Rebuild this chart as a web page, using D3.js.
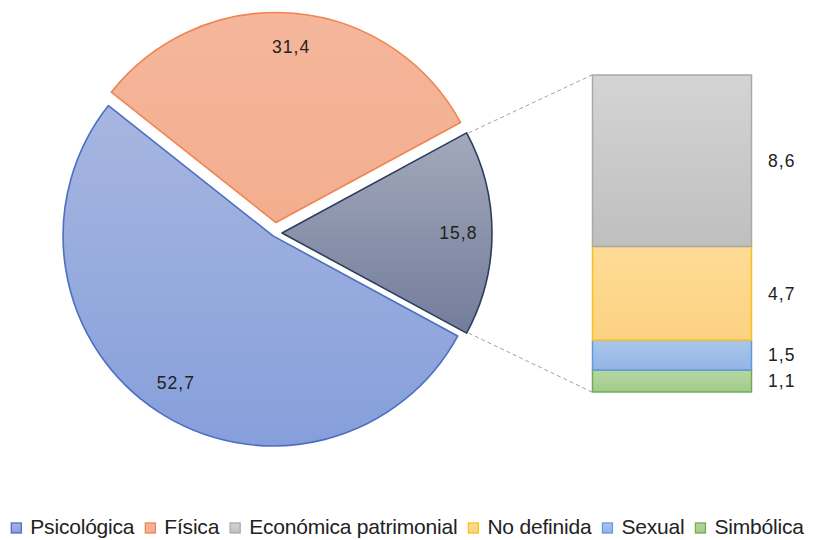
<!DOCTYPE html>
<html>
<head>
<meta charset="utf-8">
<script src="https://cdn.jsdelivr.net/npm/d3@7"></script>
<style>
  html, body { margin: 0; padding: 0; background: #ffffff; }
  svg text { font-family: "Liberation Sans", Arial, Helvetica, sans-serif; fill: #222222; }
</style>
</head>
<body>
<svg id="chart" width="815" height="540"></svg>
<script>
// Pie: the two main types plus the grouped remainder, which is broken out in the bar
const pieCategories = ["Psicológica", "Física", "Otras"];
const pieValues = [52.7, 31.4, 15.8];

// Bar: breakdown of the grouped remainder, listed top to bottom
const barCategories = ["Económica patrimonial", "No definida", "Sexual", "Simbólica"];
const barValues = [8.6, 4.7, 1.5, 1.1];

// Legend entries, in display order
const legendLabels = ["Psicológica", "Física", "Económica patrimonial", "No definida", "Sexual", "Simbólica"];

const fmt = v => d3.format(".1f")(v).replace(".", ",");

const svg = d3.select("#chart");
const defs = svg.append("defs");

// Colour styles: gradient top, gradient bottom, outline
const styles = {
  "Psicológica":           { top: "#a7b6e0", bottom: "#869fdb", stroke: "#4d6fc2" },
  "Física":                { top: "#f5b69b", bottom: "#f3ae8f", stroke: "#ee8552" },
  "Otras":                 { top: "#a3a9bb", bottom: "#737d9b", stroke: "#2c3d5e" },
  "Económica patrimonial": { top: "#d4d4d4", bottom: "#bfbfbf", stroke: "#a9a9a9" },
  "No definida":           { top: "#fedb95", bottom: "#fcd282", stroke: "#f6c21a" },
  "Sexual":                { top: "#abc6ec", bottom: "#93b4e5", stroke: "#5f9bd8" },
  "Simbólica":             { top: "#b5d7a3", bottom: "#a2cc8a", stroke: "#72ad4b" }
};
const gradId = name => "g" + Object.keys(styles).indexOf(name);
Object.keys(styles).forEach(name => {
  const g = defs.append("linearGradient").attr("id", gradId(name))
    .attr("x1", 0).attr("y1", 0).attr("x2", 0).attr("y2", 1);
  g.append("stop").attr("offset", "0%").attr("stop-color", styles[name].top);
  g.append("stop").attr("offset", "100%").attr("stop-color", styles[name].bottom);
});

// ---- Pie ----
const cx = 275, cy = 233, radius = 210;
const explode = { "Psicológica": 3.5, "Física": 10.5, "Otras": 7 };

const total = d3.sum(pieValues);
const otherAngle = 2 * Math.PI * pieValues[2] / total;
// grouped slice centred at 3 o'clock, the rest follow clockwise
const pieOrder = [2, 0, 1];
const pie = d3.pie().sort(null).value(i => pieValues[i])
  .startAngle(Math.PI / 2 - otherAngle / 2)
  .endAngle(Math.PI / 2 - otherAngle / 2 + 2 * Math.PI);
const arcs = pie(pieOrder);

const arc = d3.arc().innerRadius(0).outerRadius(radius);
const labelArc = d3.arc().innerRadius(radius * 0.84).outerRadius(radius * 0.84);

const pieG = svg.append("g").attr("transform", `translate(${cx},${cy})`);

function offsetOf(d) {
  const name = pieCategories[d.data];
  const mid = (d.startAngle + d.endAngle) / 2;
  const e = explode[name];
  return [Math.sin(mid) * e, -Math.cos(mid) * e];
}

const slices = pieG.selectAll("g.slice").data(arcs).join("g")
  .attr("class", "slice")
  .attr("transform", d => { const o = offsetOf(d); return `translate(${o[0]},${o[1]})`; });

slices.append("path")
  .attr("d", arc)
  .attr("fill", d => `url(#${gradId(pieCategories[d.data])})`)
  .attr("stroke", d => styles[pieCategories[d.data]].stroke)
  .attr("stroke-width", 1.6)
  .attr("stroke-linejoin", "round");

slices.append("text")
  .attr("transform", d => `translate(${labelArc.centroid(d)})`)
  .attr("text-anchor", "middle")
  .attr("dy", "0.36em")
  .attr("font-size", 17.5)
  .attr("letter-spacing", 1.1)
  .text(d => fmt(pieValues[d.data]));

// ---- Stacked bar ----
const barX0 = 592, barX1 = 752;
const barTotal = d3.sum(barValues);
const y = d3.scaleLinear().domain([0, barTotal]).range([392, 75]);

// stack from the bottom up (last category at the base)
let acc = 0;
const stackBottom = barValues.map((v, i) => i).reverse().map(i => {
  const seg = { i, y0: acc, y1: acc + barValues[i] };
  acc += barValues[i];
  return seg;
});

const barG = svg.append("g");
barG.selectAll("rect").data(stackBottom).join("rect")
  .attr("x", barX0 + 0.5)
  .attr("width", barX1 - barX0 - 1)
  .attr("y", d => y(d.y1))
  .attr("height", d => y(d.y0) - y(d.y1))
  .attr("fill", d => `url(#${gradId(barCategories[d.i])})`)
  .attr("stroke", d => styles[barCategories[d.i]].stroke)
  .attr("stroke-width", 1.5);

barG.selectAll("text").data(stackBottom).join("text")
  .attr("x", barX1 + 16)
  .attr("y", d => (y(d.y0) + y(d.y1)) / 2)
  .attr("dy", "0.36em")
  .attr("font-size", 17.5)
  .attr("letter-spacing", 1.1)
  .text(d => fmt(barValues[d.i]));

// ---- Connector lines from the grouped slice to the bar ----
const otherArc = arcs[0];
const oo = offsetOf(otherArc);
const pt = a => [cx + oo[0] + Math.sin(a) * radius, cy + oo[1] - Math.cos(a) * radius];
const pTop = pt(otherArc.startAngle), pBot = pt(otherArc.endAngle);
svg.append("g").selectAll("line")
  .data([[pTop, [barX0, y(barTotal)]], [pBot, [barX0, y(0)]]])
  .join("line")
  .attr("x1", d => d[0][0] + 2).attr("y1", d => d[0][1])
  .attr("x2", d => d[1][0]).attr("y2", d => d[1][1])
  .attr("stroke", "#a0a0a0")
  .attr("stroke-width", 1)
  .attr("stroke-dasharray", "4,3");

// ---- Legend ----
const legendG = svg.append("g");
const items = legendG.selectAll("g").data(legendLabels).join("g");
items.append("rect")
  .attr("width", 10).attr("height", 10)
  .attr("y", 523)
  .attr("fill", d => `url(#${gradId(d)})`)
  .attr("stroke", d => styles[d].stroke)
  .attr("stroke-width", 1.3);
items.append("text")
  .attr("x", 19)
  .attr("y", 534)
  .attr("font-size", 21)
  .attr("letter-spacing", -0.2)
  .text(d => d);

// lay the entries out in a row, centred
const gap = 11;
let lx = 0;
const positions = [];
items.each(function () {
  const w = d3.select(this).select("text").node().getComputedTextLength();
  positions.push(lx);
  lx += 19 + w + gap;
});
const legendWidth = lx - gap;
const startX = (815 - legendWidth) / 2;
items.attr("transform", (d, i) => `translate(${startX + positions[i]},0)`);
</script>
</body>
</html>
